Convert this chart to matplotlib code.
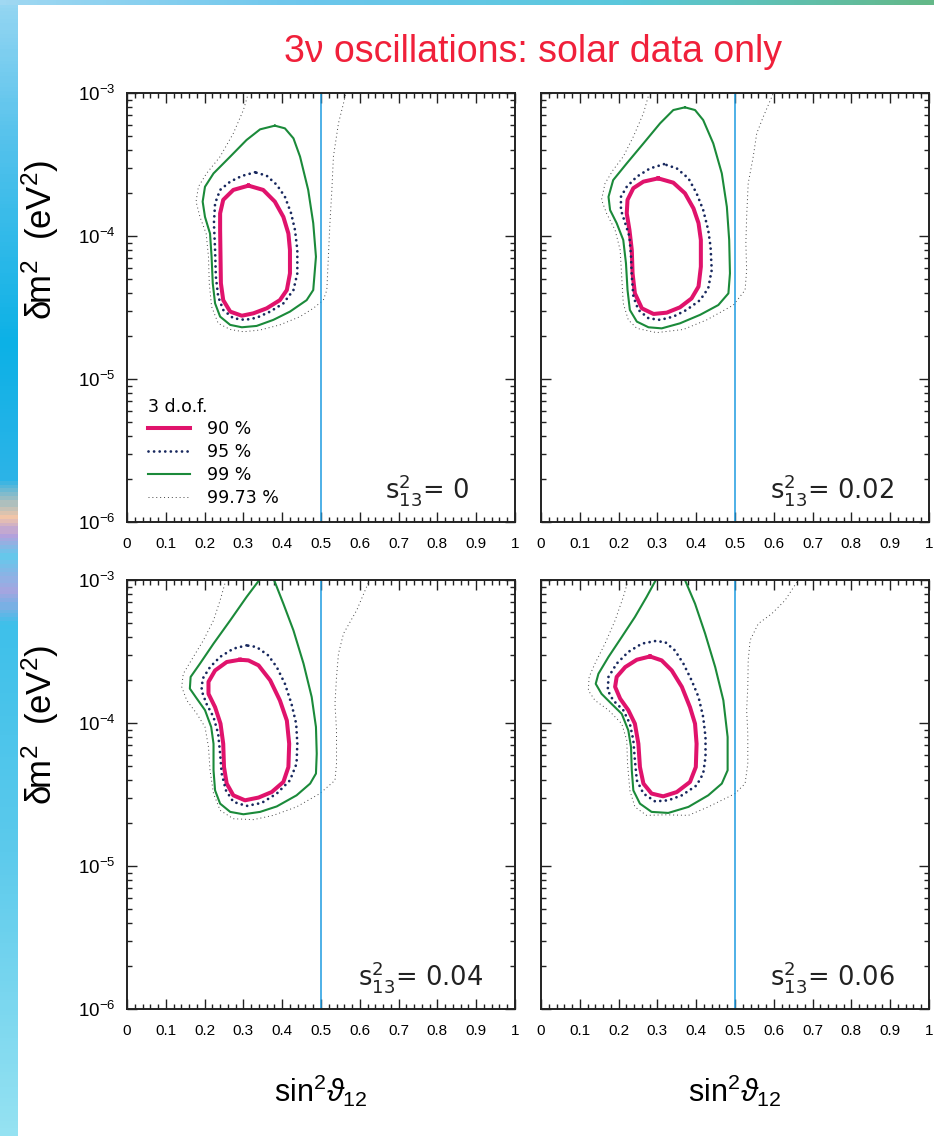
import numpy as np
import matplotlib.pyplot as plt
from matplotlib.ticker import MultipleLocator, LogLocator, NullFormatter
from matplotlib.colors import LinearSegmentedColormap

plt.rcParams['font.family'] = ['Liberation Sans Narrow', 'Liberation Sans', 'DejaVu Sans']
plt.rcParams['mathtext.fontset'] = 'custom'
plt.rcParams['mathtext.rm'] = 'Liberation Sans'
plt.rcParams['mathtext.it'] = 'Liberation Sans:italic'

# ---- data: sin^2(theta12) and dm^2 [eV^2] ----
s13_values = ['0', '0.02', '0.04', '0.06']
levels = ['90 %', '95 %', '99 %', '99.73 %']
xtick_labels = ['0', '0.1', '0.2', '0.3', '0.4', '0.5', '0.6', '0.7', '0.8', '0.9', '1']
ytick_values = [1e-6, 1e-5, 1e-4, 1e-3]
ytick_labels = [r'$10^{-6}$', r'$10^{-5}$', r'$10^{-4}$', r'$10^{-3}$']

# s13^2 = 0
x90_a = [0.313, 0.274, 0.248, 0.240, 0.240, 0.241, 0.242, 0.248, 0.266, 0.296, 0.326, 0.360, 0.394, 0.412,
         0.420, 0.420, 0.416, 0.403, 0.381, 0.351]
dm90_a = [2.25e-4, 2.10e-4, 1.79e-4, 1.44e-4, 1.10e-4, 7.16e-5, 4.67e-5, 3.56e-5, 2.96e-5, 2.77e-5, 2.88e-5,
          3.12e-5, 3.56e-5, 4.19e-5, 5.48e-5, 7.98e-5, 1.04e-4, 1.36e-4, 1.74e-4, 2.10e-4]
x95_a = [0.330, 0.296, 0.266, 0.240, 0.227, 0.224, 0.227, 0.229, 0.235, 0.248, 0.274, 0.304, 0.334, 0.369,
         0.403, 0.429, 0.439, 0.439, 0.433, 0.423, 0.407, 0.386, 0.360]
dm95_a = [2.79e-4, 2.63e-4, 2.40e-4, 2.10e-4, 1.69e-4, 1.23e-4, 7.98e-5, 5.20e-5, 3.77e-5, 3.04e-5, 2.66e-5,
          2.59e-5, 2.68e-5, 2.96e-5, 3.38e-5, 4.19e-5, 5.48e-5, 7.98e-5, 1.10e-4, 1.44e-4, 1.88e-4, 2.28e-4,
          2.64e-4]
x99_a = [0.381, 0.343, 0.308, 0.266, 0.223, 0.201, 0.195, 0.201, 0.214, 0.218, 0.221, 0.227, 0.240, 0.266,
         0.296, 0.334, 0.377, 0.420, 0.463, 0.480, 0.487, 0.480, 0.467, 0.446, 0.429, 0.407]
dm99_a = [5.91e-4, 5.57e-4, 4.69e-4, 3.59e-4, 2.74e-4, 2.21e-4, 1.74e-4, 1.36e-4, 1.04e-4, 7.16e-5, 4.67e-5,
          3.38e-5, 2.73e-5, 2.39e-5, 2.30e-5, 2.35e-5, 2.59e-5, 2.96e-5, 3.56e-5, 4.19e-5, 7.16e-5, 1.23e-4,
          2.10e-4, 3.59e-4, 4.82e-4, 5.66e-4]
x997_a = [0.313, 0.300, 0.274, 0.240, 0.205, 0.184, 0.178, 0.188, 0.204, 0.210, 0.212, 0.218, 0.235, 0.266,
          0.300, 0.343, 0.394, 0.446, 0.480, 0.506, 0.515, 0.519, 0.523, 0.528, 0.532, 0.545, 0.558, 0.564]
dm997_a = [1.0e-3, 7.60e-4, 5.22e-4, 3.59e-4, 2.74e-4, 2.21e-4, 1.74e-4, 1.36e-4, 1.04e-4, 7.16e-5, 4.67e-5,
           3.21e-5, 2.45e-5, 2.22e-5, 2.14e-5, 2.20e-5, 2.39e-5, 2.73e-5, 3.12e-5, 3.56e-5, 4.19e-5, 7.16e-5,
           1.23e-4, 2.10e-4, 3.59e-4, 6.14e-4, 8.47e-4, 1.0e-3]

# s13^2 = 0.02
x90_b = [0.302, 0.264, 0.238, 0.223, 0.221, 0.228, 0.234, 0.236, 0.242, 0.260, 0.290, 0.324, 0.358, 0.388,
         0.406, 0.412, 0.412, 0.406, 0.393, 0.371, 0.341]
dm90_b = [2.53e-4, 2.40e-4, 2.16e-4, 1.79e-4, 1.44e-4, 1.10e-4, 7.98e-5, 5.48e-5, 3.97e-5, 3.12e-5, 2.85e-5,
          2.91e-5, 3.17e-5, 3.66e-5, 4.43e-5, 6.10e-5, 9.38e-5, 1.23e-4, 1.56e-4, 1.99e-4, 2.36e-4]
x95_b = [0.317, 0.281, 0.247, 0.221, 0.206, 0.206, 0.217, 0.228, 0.232, 0.234, 0.238, 0.251, 0.277, 0.307,
         0.341, 0.375, 0.410, 0.431, 0.440, 0.437, 0.431, 0.418, 0.401, 0.380, 0.350]
dm95_b = [3.18e-4, 2.97e-4, 2.60e-4, 2.21e-4, 1.88e-4, 1.52e-4, 1.23e-4, 9.89e-5, 7.16e-5, 5.20e-5, 3.77e-5,
          3.04e-5, 2.66e-5, 2.59e-5, 2.73e-5, 3.04e-5, 3.56e-5, 4.31e-5, 5.78e-5, 8.41e-5, 1.10e-4, 1.52e-4,
          1.99e-4, 2.53e-4, 2.97e-4]
x99_b = [0.371, 0.341, 0.307, 0.264, 0.221, 0.186, 0.174, 0.178, 0.195, 0.212, 0.219, 0.223, 0.229, 0.247,
         0.277, 0.311, 0.358, 0.410, 0.457, 0.483, 0.487, 0.485, 0.479, 0.466, 0.444, 0.418, 0.397]
dm99_b = [7.94e-4, 7.60e-4, 6.14e-4, 4.44e-4, 3.22e-4, 2.46e-4, 1.88e-4, 1.52e-4, 1.23e-4, 9.38e-5, 6.44e-5,
          4.19e-5, 3.04e-5, 2.52e-5, 2.30e-5, 2.26e-5, 2.45e-5, 2.81e-5, 3.29e-5, 3.97e-5, 5.48e-5, 9.38e-5,
          1.60e-4, 2.74e-4, 4.44e-4, 6.47e-4, 7.60e-4]
x997_b = [0.279, 0.264, 0.238, 0.212, 0.186, 0.165, 0.156, 0.169, 0.191, 0.204, 0.208, 0.212, 0.225, 0.247,
          0.298, 0.367, 0.427, 0.496, 0.526, 0.530, 0.528, 0.530, 0.534, 0.547, 0.556, 0.573, 0.599]
dm997_b = [1.0e-3, 7.21e-4, 4.95e-4, 3.59e-4, 2.90e-4, 2.33e-4, 1.79e-4, 1.44e-4, 1.10e-4, 7.98e-5, 5.20e-5,
           3.38e-5, 2.59e-5, 2.26e-5, 2.11e-5, 2.22e-5, 2.59e-5, 3.29e-5, 4.19e-5, 5.78e-5, 8.89e-5, 1.36e-4,
           2.33e-4, 3.59e-4, 5.22e-4, 6.83e-4, 1.0e-3]

# s13^2 = 0.04
x90_c = [0.291, 0.257, 0.227, 0.210, 0.210, 0.227, 0.241, 0.248, 0.250, 0.257, 0.274, 0.304, 0.339, 0.373,
         0.403, 0.416, 0.418, 0.412, 0.394, 0.369, 0.339, 0.313]
dm90_c = [2.77e-4, 2.67e-4, 2.33e-4, 1.94e-4, 1.60e-4, 1.29e-4, 9.89e-5, 7.16e-5, 4.92e-5, 3.77e-5, 3.12e-5,
          2.88e-5, 3.01e-5, 3.29e-5, 3.87e-5, 4.92e-5, 7.16e-5, 1.04e-4, 1.44e-4, 1.99e-4, 2.53e-4, 2.74e-4]
x95_c = [0.308, 0.274, 0.240, 0.214, 0.195, 0.192, 0.205, 0.223, 0.235, 0.240, 0.244, 0.255, 0.274, 0.308,
         0.347, 0.386, 0.420, 0.437, 0.439, 0.436, 0.424, 0.407, 0.386, 0.364, 0.334]
dm95_c = [3.49e-4, 3.31e-4, 2.90e-4, 2.46e-4, 2.04e-4, 1.69e-4, 1.36e-4, 1.10e-4, 8.41e-5, 6.10e-5, 4.43e-5,
          3.38e-5, 2.81e-5, 2.63e-5, 2.76e-5, 3.21e-5, 3.97e-5, 5.20e-5, 7.16e-5, 9.89e-5, 1.36e-4, 1.88e-4,
          2.46e-4, 2.97e-4, 3.40e-4]
x99_c = [0.379, 0.403, 0.429, 0.455, 0.476, 0.487, 0.489, 0.487, 0.472, 0.437, 0.386, 0.343, 0.300, 0.266,
         0.240, 0.227, 0.223, 0.223, 0.217, 0.201, 0.180, 0.162, 0.164, 0.188, 0.223, 0.266, 0.308, 0.341]
dm99_c = [1.0e-3, 6.83e-4, 4.44e-4, 2.60e-4, 1.52e-4, 9.38e-5, 6.10e-5, 4.43e-5, 3.77e-5, 3.12e-5, 2.61e-5,
          2.39e-5, 2.30e-5, 2.39e-5, 2.73e-5, 3.38e-5, 4.67e-5, 7.16e-5, 9.38e-5, 1.23e-4, 1.48e-4, 1.74e-4,
          2.10e-4, 2.60e-4, 3.59e-4, 5.22e-4, 7.60e-4, 1.0e-3]
x997_c = [0.255, 0.240, 0.223, 0.197, 0.171, 0.145, 0.141, 0.154, 0.180, 0.201, 0.210, 0.214, 0.223, 0.240,
          0.274, 0.326, 0.377, 0.437, 0.497, 0.536, 0.540, 0.540, 0.536, 0.540, 0.545, 0.558, 0.592, 0.625]
dm997_c = [1.0e-3, 7.21e-4, 5.22e-4, 3.79e-4, 2.90e-4, 2.21e-4, 1.79e-4, 1.44e-4, 1.16e-4, 9.38e-5, 6.79e-5,
           4.67e-5, 3.21e-5, 2.45e-5, 2.14e-5, 2.11e-5, 2.26e-5, 2.59e-5, 3.21e-5, 3.97e-5, 5.20e-5, 8.89e-5,
           1.36e-4, 2.10e-4, 3.05e-4, 4.22e-4, 6.14e-4, 1.0e-3]

# s13^2 = 0.06
x90_d = [0.281, 0.247, 0.217, 0.195, 0.191, 0.204, 0.225, 0.242, 0.251, 0.255, 0.264, 0.285, 0.315, 0.350,
         0.384, 0.399, 0.401, 0.397, 0.384, 0.363, 0.337, 0.311]
dm90_d = [2.92e-4, 2.77e-4, 2.46e-4, 2.10e-4, 1.79e-4, 1.48e-4, 1.23e-4, 9.89e-5, 7.16e-5, 4.92e-5, 3.77e-5,
          3.21e-5, 3.07e-5, 3.29e-5, 3.87e-5, 4.92e-5, 7.16e-5, 9.89e-5, 1.29e-4, 1.79e-4, 2.33e-4, 2.74e-4]
x95_d = [0.294, 0.260, 0.225, 0.195, 0.174, 0.172, 0.186, 0.212, 0.229, 0.238, 0.242, 0.247, 0.264, 0.294,
         0.328, 0.363, 0.401, 0.418, 0.424, 0.424, 0.418, 0.406, 0.388, 0.367, 0.345, 0.320]
dm95_d = [3.74e-4, 3.59e-4, 3.14e-4, 2.60e-4, 2.10e-4, 1.69e-4, 1.44e-4, 1.23e-4, 9.89e-5, 7.57e-5, 5.48e-5,
          3.97e-5, 3.21e-5, 2.83e-5, 2.88e-5, 3.12e-5, 3.66e-5, 4.43e-5, 5.78e-5, 7.98e-5, 1.10e-4, 1.52e-4,
          1.99e-4, 2.60e-4, 3.22e-4, 3.68e-4]
x99_d = [0.371, 0.397, 0.423, 0.449, 0.470, 0.481, 0.481, 0.466, 0.431, 0.380, 0.328, 0.285, 0.255, 0.238,
         0.234, 0.232, 0.225, 0.208, 0.182, 0.156, 0.141, 0.148, 0.174, 0.208, 0.242, 0.272, 0.296]
dm99_d = [1.0e-3, 6.83e-4, 4.22e-4, 2.46e-4, 1.44e-4, 7.98e-5, 4.67e-5, 3.77e-5, 3.12e-5, 2.59e-5, 2.35e-5,
          2.39e-5, 2.73e-5, 3.38e-5, 4.67e-5, 6.79e-5, 8.89e-5, 1.16e-4, 1.36e-4, 1.60e-4, 1.88e-4, 2.21e-4,
          2.90e-4, 3.99e-4, 5.51e-4, 7.60e-4, 1.0e-3]
x997_d = [0.225, 0.212, 0.191, 0.165, 0.139, 0.124, 0.122, 0.139, 0.174, 0.208, 0.221, 0.223, 0.229, 0.242,
          0.272, 0.320, 0.380, 0.431, 0.483, 0.500, 0.526, 0.533, 0.533, 0.530, 0.533, 0.534, 0.539, 0.560,
          0.595, 0.629, 0.663]
dm997_d = [1.0e-3, 7.60e-4, 5.22e-4, 3.59e-4, 2.60e-4, 2.10e-4, 1.69e-4, 1.44e-4, 1.23e-4, 9.89e-5, 7.57e-5,
           5.20e-5, 3.38e-5, 2.59e-5, 2.26e-5, 2.28e-5, 2.26e-5, 2.59e-5, 3.04e-5, 3.21e-5, 3.77e-5, 5.20e-5,
           8.41e-5, 1.23e-4, 1.79e-4, 2.74e-4, 3.79e-4, 4.95e-4, 5.82e-4, 7.21e-4, 1.0e-3]

panels = [
    (x90_a, dm90_a, x95_a, dm95_a, x99_a, dm99_a, x997_a, dm997_a),
    (x90_b, dm90_b, x95_b, dm95_b, x99_b, dm99_b, x997_b, dm997_b),
    (x90_c, dm90_c, x95_c, dm95_c, x99_c, dm99_c, x997_c, dm997_c),
    (x90_d, dm90_d, x95_d, dm95_d, x99_d, dm99_d, x997_d, dm997_d),
]
closed99 = [True, True, False, False]

# ---- styles ----
c90 = '#e0136c'
c95 = '#18285e'
c99 = '#1b8a3a'
c997 = '#444444'
cline = '#1e9be0'

W, H = 934, 1136
fig = plt.figure(figsize=(W / 100, H / 100), dpi=100)

# slide decoration: blue strips on the left and top
bg = fig.add_axes([0, 0, 1, 1], zorder=-5)
bg.set_xlim(0, W)
bg.set_ylim(H, 0)
bg.axis('off')
left_cmap = LinearSegmentedColormap.from_list('l', [
    (0.0, '#95d6f2'), (0.12, '#55c2ec'), (0.3, '#0cb1e6'), (0.42, '#2cb4e8'),
    (0.455, '#f2c6a8'), (0.47, '#b6a0dc'), (0.49, '#66c8ec'), (0.52, '#a9a4e0'),
    (0.55, '#3ec0ea'), (0.75, '#5ccaec'), (1.0, '#95e2f2')])
bg.imshow(np.linspace(0, 1, 300)[:, None], cmap=left_cmap, aspect='auto',
          extent=(0, 18, H, 0))
top_cmap = LinearSegmentedColormap.from_list('t', ['#a0d8f2', '#6cc6ec', '#5ac8dc', '#64b888'])
bg.imshow(np.linspace(0, 1, 300)[None, :], cmap=top_cmap, aspect='auto',
          extent=(0, W, 5, 0))

fig.text(533 / W, 1 - 52 / H, '3\u03bd oscillations: solar data only', color='#f0203a',
         fontsize=27, ha='center', va='center',
         family=['Liberation Sans Narrow', 'Liberation Sans', 'DejaVu Sans'])

boxes = [(127, 93), (541, 93), (127, 580), (541, 580)]
ann_x = [0.665, 0.59, 0.595, 0.59]
pw, ph = 388, 429

for i, (left, top) in enumerate(boxes):
    ax = fig.add_axes([left / W, 1 - (top + ph) / H, pw / W, ph / H])
    xa, ya, xb, yb, xc, yc, xd, yd = panels[i]

    l90, = ax.plot(np.append(xa, xa[0]), np.append(ya, ya[0]), color=c90, lw=2.9,
                   solid_joinstyle='round')
    l95, = ax.plot(np.append(xb, xb[0]), np.append(yb, yb[0]), color=c95, lw=2.0,
                   linestyle=(0, (0.01, 2.0)), dash_capstyle='round')
    if closed99[i]:
        l99, = ax.plot(np.append(xc, xc[0]), np.append(yc, yc[0]), color=c99, lw=1.5)
    else:
        l99, = ax.plot(xc, yc, color=c99, lw=1.5)
    l997, = ax.plot(xd, yd, color=c997, lw=0.7, linestyle=(0, (1, 3)))

    ax.axvline(0.5, color=cline, lw=1.1)

    ax.set_xlim(0, 1)
    ax.set_yscale('log')
    ax.set_ylim(1e-6, 1e-3)
    ax.set_xticks(np.linspace(0, 1, 11))
    ax.set_xticklabels(xtick_labels)
    ax.xaxis.set_minor_locator(MultipleLocator(0.02))
    ax.set_yticks(ytick_values)
    ax.yaxis.set_minor_locator(LogLocator(base=10, subs=np.arange(2, 10)))
    ax.yaxis.set_minor_formatter(NullFormatter())
    if i % 2 == 0:
        ax.set_yticklabels(ytick_labels)
    else:
        ax.set_yticklabels([])
    ax.tick_params(which='both', direction='in', top=True, right=True, width=1.0, colors='#222222')
    ax.tick_params(which='major', length=7.5)
    ax.tick_params(which='minor', length=3.5)
    ax.tick_params(axis='x', labelsize=11, pad=11, labelcolor='black')
    ax.tick_params(axis='y', labelsize=13.5, pad=8, labelcolor='black')
    for sp in ax.spines.values():
        sp.set_linewidth(1.4)
        sp.set_color('#222222')

    ax.text(ann_x[i], 0.055, r'$\mathregular{s^2_{13}}$= ' + s13_values[i], transform=ax.transAxes,
            fontsize=18.5, color='#222222', family='DejaVu Sans', ha='left', va='baseline')

    if i >= 2:
        ax.text(0.5, -0.19, r'sin$^2\vartheta_{12}$', transform=ax.transAxes, fontsize=22,
                ha='center', va='center')

    if i == 0:
        leg = ax.legend([l90, l95, l99, l997], levels, title='3 d.o.f.', loc='lower left',
                        bbox_to_anchor=(0.055, 0.035), frameon=False, alignment='left',
                        prop={'family': 'DejaVu Sans', 'size': 12.5},
                        title_fontproperties={'family': 'DejaVu Sans', 'size': 12.5},
                        handlelength=2.4, handletextpad=1.0, labelspacing=0.28,
                        borderpad=0, borderaxespad=0)

for yc in [240, 725]:
    fig.text(40 / W, 1 - yc / H, '\u03b4m$^2$  (eV$^2$)', rotation=90, fontsize=25,
             ha='center', va='center')

fig.savefig('out.png', dpi=100)
